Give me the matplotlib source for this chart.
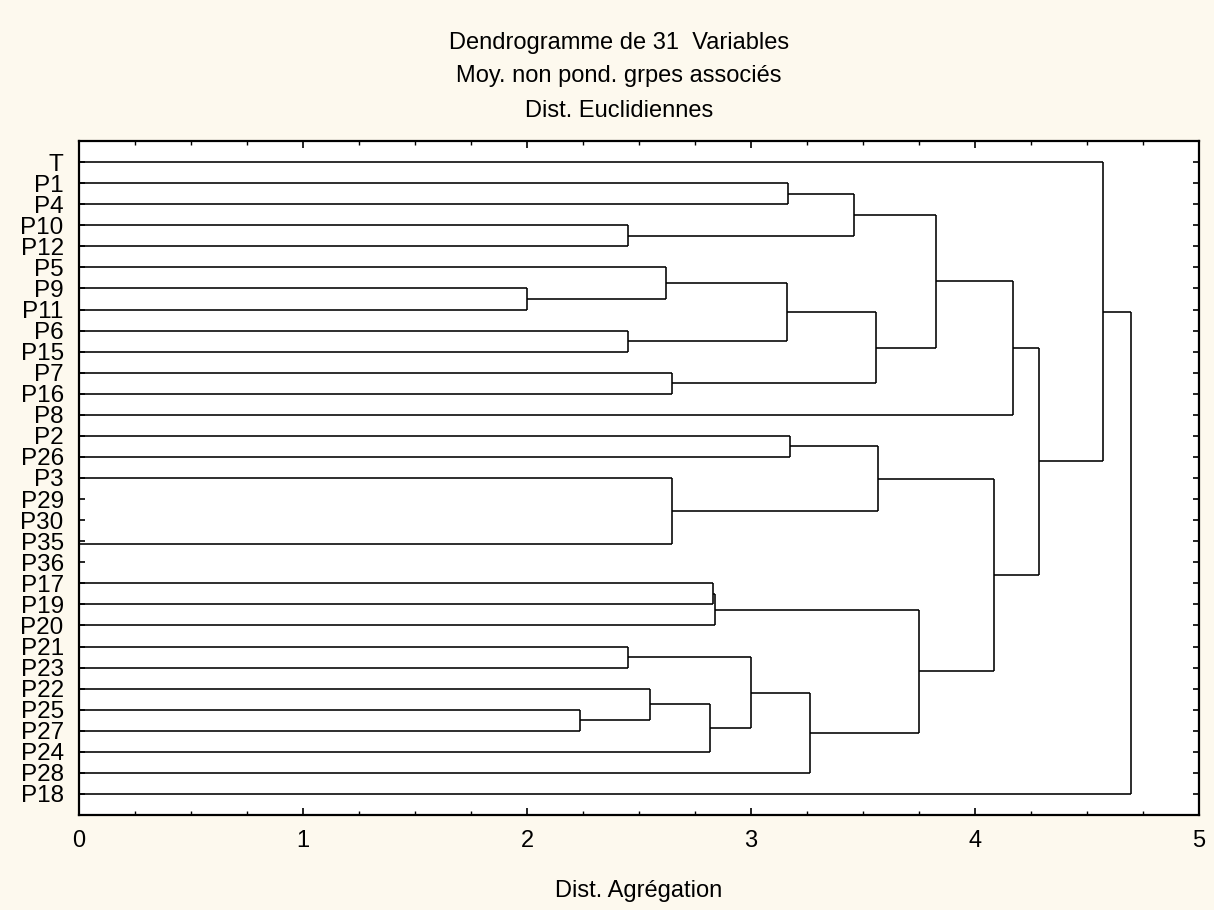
import matplotlib
matplotlib.use("Agg")
import matplotlib.pyplot as plt
from matplotlib.ticker import MultipleLocator

plt.rcParams['font.family'] = ['Liberation Sans', 'DejaVu Sans']

# Leaves, top to bottom
leaf_labels = ["T", "P1", "P4", "P10", "P12", "P5", "P9", "P11", "P6", "P15",
               "P7", "P16", "P8", "P2", "P26", "P3", "P29", "P30", "P35", "P36",
               "P17", "P19", "P20", "P21", "P23", "P22", "P25", "P27", "P24",
               "P28", "P18"]

# Merges: node ids 0..30 are leaves, merges create nodes 31, 32, ...
merge_left = [16, 31, 32, 6, 26, 3, 8, 23, 25, 5, 10, 15, 39, 20, 44, 38,
              40, 1, 13, 46, 48, 47, 49, 45, 51, 53, 55, 57, 0, 59]
merge_right = [17, 18, 19, 7, 27, 4, 9, 24, 35, 34, 11, 33, 28, 21, 22, 43,
               37, 2, 14, 29, 36, 41, 42, 50, 52, 54, 12, 56, 58, 30]
merge_height = [0.0, 0.0, 0.0, 2.00, 2.236, 2.451, 2.451, 2.451, 2.547, 2.619,
                2.647, 2.647, 2.817, 2.829, 2.841, 2.998, 3.159, 3.163, 3.175,
                3.263, 3.460, 3.559, 3.568, 3.751, 3.826, 4.083, 4.171, 4.286,
                4.570, 4.698]

title_lines = ["Dendrogramme de 31  Variables",
               "Moy. non pond. grpes associés",
               "Dist. Euclidiennes"]
x_label = "Dist. Agrégation"

W, H = 1214, 910
fig = plt.figure(figsize=(W / 100, H / 100), dpi=100)
fig.patch.set_facecolor('#fdf9ee')

ax_l, ax_r, ax_t, ax_b = 79, 1199, 141, 815
ax = fig.add_axes([ax_l / W, (H - ax_b) / H, (ax_r - ax_l) / W, (ax_b - ax_t) / H])
ax.set_facecolor('white')

n = len(leaf_labels)
node_x = [0.0] * n
node_y = [float(i + 1) for i in range(n)]

lw = 1.15
for a, b, h in zip(merge_left, merge_right, merge_height):
    xa, ya = node_x[a], node_y[a]
    xb, yb = node_x[b], node_y[b]
    ax.plot([xa, h], [ya, ya], color='black', lw=lw, solid_capstyle='butt')
    ax.plot([xb, h], [yb, yb], color='black', lw=lw, solid_capstyle='butt')
    ax.plot([h, h], [ya, yb], color='black', lw=lw, solid_capstyle='butt')
    node_x.append(h)
    node_y.append((ya + yb) / 2.0)

ax.set_xlim(0, 5)
ax.set_ylim(n + 1, 0)

ax.set_yticks(range(1, n + 1))
ax.set_yticklabels(leaf_labels)
ax.xaxis.set_major_locator(MultipleLocator(1))
ax.xaxis.set_minor_locator(MultipleLocator(0.25))

ax.tick_params(axis='y', which='both', direction='in', left=True, right=True,
               length=4, width=1.2, pad=11, labelsize=17.5)
ax.tick_params(axis='x', which='major', direction='in', top=True, bottom=True,
               length=5, width=1.2, pad=11, labelsize=17)
ax.tick_params(axis='x', which='minor', direction='in', top=True, bottom=True,
               length=3, width=1.0)

for sp in ax.spines.values():
    sp.set_linewidth(1.6)
    sp.set_color('black')

lab = ax.set_xlabel(x_label, fontsize=17, va='baseline')
ax.xaxis.set_label_coords(0.5, (ax_b - 897) / (ax_b - ax_t))

title_baselines = [49, 82, 117]
for txt, yb in zip(title_lines, title_baselines):
    fig.text(0.51, (H - yb) / H, txt, ha='center', va='baseline', fontsize=17)

fig.savefig("out.png", dpi=100, facecolor=fig.get_facecolor())
